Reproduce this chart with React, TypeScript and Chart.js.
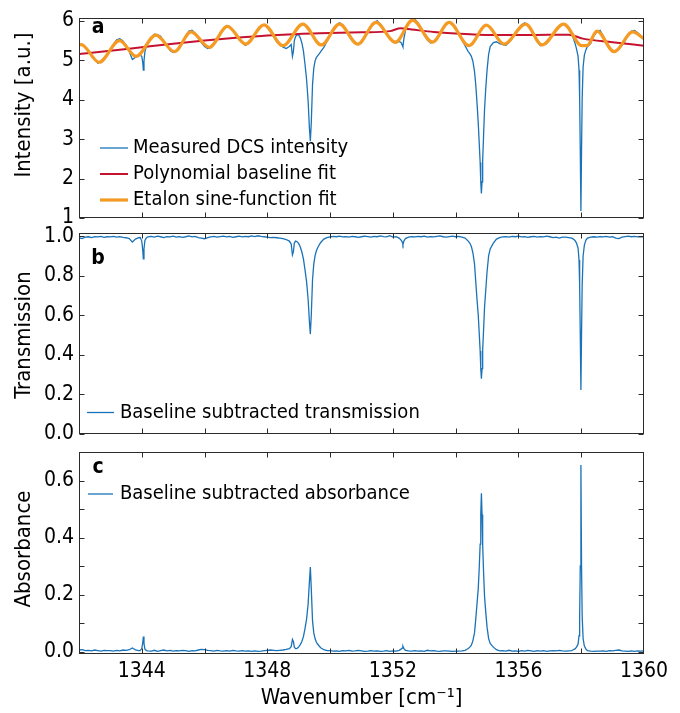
import React, { useEffect, useRef } from "react";
import { Chart, registerables } from "chart.js";

Chart.register(...registerables);

const FONT = "'DejaVu Sans Condensed', 'Liberation Sans Narrow', 'DejaVu Sans', sans-serif";

// ---------- shared wavenumber grid [cm^-1] ----------
const WAVENUMBER = [
  1342.0, 1342.1, 1342.2, 1342.3, 1342.4, 1342.5, 1342.6, 1342.7, 1342.8, 1342.9,
  1343.0, 1343.1, 1343.2, 1343.3, 1343.4, 1343.5, 1343.6, 1343.7, 1343.8, 1343.9,
  1343.95, 1344.0, 1344.03, 1344.05, 1344.07, 1344.1, 1344.15,
  1344.2, 1344.3, 1344.4, 1344.5, 1344.6, 1344.7, 1344.8, 1344.9, 1345.0, 1345.1,
  1345.2, 1345.3, 1345.4, 1345.5, 1345.6, 1345.7, 1345.8, 1345.9, 1346.0, 1346.1,
  1346.2, 1346.3, 1346.4, 1346.5, 1346.6, 1346.7, 1346.8, 1346.9, 1347.0, 1347.1,
  1347.2, 1347.3, 1347.4, 1347.5, 1347.6, 1347.7, 1347.8, 1347.9, 1348.0, 1348.1, 1348.2,
  1348.3, 1348.4, 1348.5, 1348.6, 1348.7, 1348.76, 1348.8, 1348.83, 1348.86, 1348.9,
  1348.95, 1349.0, 1349.05, 1349.1, 1349.15, 1349.2, 1349.25, 1349.3, 1349.34, 1349.37,
  1349.4, 1349.44, 1349.48, 1349.52, 1349.56, 1349.6, 1349.65, 1349.7, 1349.8, 1349.9,
  1350.0, 1350.1, 1350.2, 1350.3, 1350.4, 1350.5, 1350.6, 1350.7, 1350.8, 1350.9,
  1351.0, 1351.1, 1351.2, 1351.3, 1351.4, 1351.5, 1351.6, 1351.7, 1351.8, 1351.9,
  1352.0, 1352.1, 1352.2, 1352.26, 1352.3, 1352.32, 1352.35, 1352.4, 1352.5, 1352.6,
  1352.7, 1352.8, 1352.9, 1353.0, 1353.1, 1353.2, 1353.3, 1353.4, 1353.5, 1353.6,
  1353.7, 1353.8, 1353.9, 1354.0, 1354.1, 1354.2, 1354.3, 1354.4, 1354.45, 1354.5,
  1354.55, 1354.6, 1354.64, 1354.68, 1354.72, 1354.75, 1354.78, 1354.8, 1354.82, 1354.84,
  1354.86, 1354.89, 1354.92, 1354.96, 1355.0, 1355.05, 1355.1, 1355.2, 1355.3, 1355.4,
  1355.5, 1355.6, 1355.7, 1355.8, 1355.9, 1356.0, 1356.1, 1356.2, 1356.3, 1356.4,
  1356.5, 1356.6, 1356.7, 1356.8, 1356.9, 1357.0, 1357.1, 1357.2, 1357.3, 1357.4,
  1357.5, 1357.6, 1357.7, 1357.75, 1357.8, 1357.85, 1357.9, 1357.93, 1357.95, 1357.97,
  1357.99, 1358.01, 1358.03, 1358.06, 1358.1, 1358.15, 1358.2, 1358.3, 1358.4, 1358.5,
  1358.6, 1358.7, 1358.8, 1358.9, 1359.0, 1359.1, 1359.2, 1359.3, 1359.4, 1359.5,
  1359.6, 1359.7, 1359.8, 1359.9, 1360.0,
];

// ---------- panel a: measured DCS intensity [a.u.] ----------
const INTENSITY = [
  5.41, 5.38, 5.33, 5.26, 5.10, 5.03, 4.93, 4.97, 5.06, 5.12,
  5.25, 5.41, 5.52, 5.55, 5.49, 5.38, 5.22, 5.02, 5.08, 5.12,
  5.13, 5.10, 4.95, 4.75, 4.98, 5.22, 5.36,
  5.44, 5.58, 5.66, 5.65, 5.61, 5.47, 5.39, 5.25, 5.20, 5.25,
  5.30, 5.47, 5.62, 5.74, 5.76, 5.69, 5.57, 5.45, 5.35, 5.30,
  5.32, 5.44, 5.55, 5.70, 5.79, 5.88, 5.85, 5.75, 5.67, 5.52,
  5.46, 5.38, 5.43, 5.55, 5.64, 5.80, 5.86, 5.91, 5.85, 5.73, 5.60,
  5.47, 5.40, 5.33, 5.30, 5.35, 5.40, 5.10, 5.22, 5.50, 5.60,
  5.65, 5.64, 5.57, 5.44, 5.24, 4.90, 4.52, 3.96, 3.29, 2.95,
  3.41, 4.39, 4.80, 4.98, 5.07, 5.11, 5.16, 5.22, 5.33, 5.48,
  5.62, 5.80, 5.90, 5.95, 5.90, 5.76, 5.62, 5.50, 5.45, 5.40,
  5.45, 5.60, 5.74, 5.87, 5.96, 6.00, 5.92, 5.78, 5.66, 5.55,
  5.47, 5.44, 5.48, 5.45, 5.38, 5.34, 5.55, 5.75, 5.94, 6.03,
  6.04, 5.95, 5.80, 5.64, 5.51, 5.44, 5.47, 5.55, 5.69, 5.84,
  5.90, 5.98, 5.92, 5.80, 5.66, 5.52, 5.37, 5.22, 5.17, 5.10,
  4.97, 4.72, 4.38, 3.92, 3.40, 2.91, 2.41, 1.90, 1.62, 1.92,
  2.45, 3.11, 3.76, 4.30, 4.75, 5.15, 5.35, 5.45, 5.47, 5.42,
  5.40, 5.38, 5.45, 5.56, 5.70, 5.80, 5.90, 5.95, 5.88, 5.78,
  5.62, 5.47, 5.37, 5.40, 5.43, 5.55, 5.67, 5.78, 5.88, 5.93,
  5.90, 5.80, 5.65, 5.55, 5.44, 5.29, 5.10, 4.75, 4.04, 2.69,
  1.18, 2.69, 4.03, 4.83, 5.13, 5.27, 5.35, 5.42, 5.62, 5.72,
  5.76, 5.62, 5.45, 5.30, 5.21, 5.25, 5.28, 5.38, 5.50, 5.66,
  5.74, 5.76, 5.70, 5.62, 5.52,
];

// polynomial baseline fit
const BASELINE_X = [1342, 1343, 1344, 1345, 1346, 1347, 1348, 1349, 1350, 1351, 1351.9, 1352.25, 1352.6, 1353.3, 1354.3, 1355.3, 1356.3, 1357.6, 1358.05, 1359, 1360];
const BASELINE_Y = [5.16, 5.24, 5.33, 5.42, 5.50, 5.57, 5.63, 5.67, 5.69, 5.71, 5.74, 5.81, 5.78, 5.72, 5.67, 5.64, 5.64, 5.65, 5.55, 5.46, 5.37];

// etalon sine-function fit (extrema)
const ETALON_X = [1342.0, 1342.07, 1342.64, 1343.29, 1343.82, 1344.45, 1345.04, 1345.57, 1346.15, 1346.73, 1347.31, 1347.89, 1348.5, 1349.13, 1349.72, 1350.3, 1350.88, 1351.46, 1352.08, 1352.63, 1353.26, 1353.79, 1354.42, 1354.98, 1355.54, 1356.23, 1356.75, 1357.44, 1358.02, 1358.2, 1358.5, 1359.05, 1359.64, 1360.0];
const ETALON_Y = [5.39, 5.40, 4.95, 5.50, 5.10, 5.64, 5.22, 5.72, 5.33, 5.86, 5.41, 5.90, 5.37, 5.92, 5.39, 5.92, 5.41, 5.96, 5.46, 6.02, 5.46, 5.96, 5.37, 5.89, 5.41, 5.92, 5.39, 5.92, 5.37, 5.38, 5.74, 5.22, 5.72, 5.55];

// ---------- panel b: baseline subtracted transmission ----------
const TRANSMISSION = [
  0.992, 0.988, 0.995, 0.997, 0.993, 0.998, 0.996, 0.999, 0.994, 0.997,
  0.996, 0.999, 0.995, 0.998, 0.994, 0.992, 0.988, 0.970, 0.985, 0.992,
  0.993, 0.975, 0.930, 0.885, 0.935, 0.978, 0.992,
  0.997, 0.999, 0.995, 1.000, 0.997, 0.993, 0.998, 0.996, 1.000, 0.995,
  0.998, 0.994, 0.997, 1.001, 0.996, 0.999, 0.993, 0.990, 0.987, 0.992,
  0.996, 0.999, 0.995, 0.998, 1.000, 0.996, 0.999, 0.994, 0.997, 1.000,
  0.996, 0.999, 0.997, 1.001, 0.998, 1.002, 0.999, 0.997, 0.995, 0.993, 0.994,
  0.992, 0.990, 0.987, 0.983, 0.975, 0.960, 0.905, 0.920, 0.965, 0.975,
  0.972, 0.962, 0.945, 0.920, 0.885, 0.830, 0.770, 0.680, 0.570, 0.505,
  0.600, 0.780, 0.860, 0.900, 0.925, 0.940, 0.955, 0.968, 0.985, 0.993,
  0.996, 0.999, 0.997, 1.000, 0.996, 0.998, 0.995, 0.999, 0.997, 0.994,
  0.997, 1.000, 0.998, 0.995, 0.999, 0.997, 1.001, 0.998, 0.996, 1.002,
  0.995, 0.998, 0.990, 0.980, 0.970, 0.958, 0.975, 0.988, 0.995, 0.998,
  0.996, 0.999, 0.997, 1.000, 0.995, 0.998, 0.996, 0.999, 1.001, 0.997,
  0.995, 0.998, 1.000, 0.997, 0.999, 0.995, 0.990, 0.975, 0.965, 0.948,
  0.915, 0.860, 0.770, 0.680, 0.600, 0.510, 0.420, 0.330, 0.280, 0.330,
  0.420, 0.530, 0.640, 0.730, 0.820, 0.900, 0.935, 0.965, 0.985, 0.993,
  0.996, 0.998, 0.995, 0.999, 0.997, 1.000, 0.996, 0.998, 0.994, 0.997,
  0.999, 0.995, 0.998, 0.996, 1.000, 0.997, 0.993, 0.995, 0.990, 0.995,
  0.995, 0.993, 0.990, 0.985, 0.978, 0.965, 0.940, 0.880, 0.750, 0.500,
  0.222, 0.500, 0.750, 0.900, 0.955, 0.980, 0.990, 0.995, 0.997, 0.995,
  0.998, 0.996, 0.999, 0.995, 0.997, 0.990, 0.988, 0.995, 0.998, 1.000,
  0.997, 0.999, 0.996, 0.998, 0.997,
];

// ---------- panel c: baseline subtracted absorbance ----------
const ABSORBANCE = [
  0.006, 0.007, 0.004, 0.005, 0.003, 0.006, 0.004, 0.002, 0.005, 0.004,
  0.004, 0.002, 0.005, 0.003, 0.006, 0.005, 0.007, 0.013, 0.006, 0.004,
  0.004, 0.011, 0.031, 0.053, 0.029, 0.009, 0.004,
  0.003, 0.002, 0.005, 0.001, 0.004, 0.006, 0.003, 0.005, 0.002, 0.004,
  0.003, 0.005, 0.004, 0.001, 0.004, 0.003, 0.006, 0.008, 0.007, 0.005,
  0.004, 0.002, 0.005, 0.003, 0.002, 0.004, 0.002, 0.005, 0.003, 0.002,
  0.004, 0.002, 0.003, 0.001, 0.003, 0.001, 0.002, 0.004, 0.005, 0.006, 0.005,
  0.004, 0.005, 0.006, 0.008, 0.011, 0.018, 0.043, 0.036, 0.016, 0.011,
  0.012, 0.017, 0.025, 0.036, 0.053, 0.081, 0.114, 0.168, 0.244, 0.297,
  0.222, 0.108, 0.066, 0.046, 0.034, 0.027, 0.020, 0.014, 0.007, 0.004,
  0.004, 0.002, 0.003, 0.001, 0.004, 0.003, 0.005, 0.002, 0.003, 0.005,
  0.003, 0.001, 0.002, 0.004, 0.002, 0.003, 0.001, 0.002, 0.004, 0.001,
  0.003, 0.002, 0.005, 0.009, 0.013, 0.019, 0.011, 0.005, 0.003, 0.002,
  0.004, 0.002, 0.003, 0.001, 0.005, 0.003, 0.004, 0.002, 0.001, 0.003,
  0.003, 0.002, 0.001, 0.002, 0.002, 0.003, 0.005, 0.011, 0.016, 0.023,
  0.039, 0.066, 0.114, 0.168, 0.222, 0.292, 0.377, 0.481, 0.555, 0.481,
  0.377, 0.276, 0.194, 0.137, 0.086, 0.046, 0.029, 0.016, 0.007, 0.003,
  0.004, 0.002, 0.005, 0.002, 0.003, 0.001, 0.004, 0.002, 0.005, 0.003,
  0.001, 0.004, 0.002, 0.004, 0.001, 0.003, 0.004, 0.003, 0.005, 0.003,
  0.002, 0.003, 0.004, 0.007, 0.010, 0.016, 0.027, 0.056, 0.125, 0.301,
  0.654, 0.301, 0.125, 0.046, 0.020, 0.009, 0.004, 0.002, 0.001, 0.002,
  0.002, 0.003, 0.001, 0.004, 0.003, 0.005, 0.006, 0.003, 0.002, 0.001,
  0.003, 0.001, 0.003, 0.002, 0.003,
];

// ---------- axes ----------
const X_MIN = 1342;
const X_MAX = 1360;
const X_TICK_LABELS = [1344, 1348, 1352, 1356, 1360];
const X_TICK_MARKS = [1344, 1346, 1348, 1350, 1352, 1354, 1356, 1358];
const A_TICKS = [1, 2, 3, 4, 5, 6];
const B_TICKS = [0, 0.2, 0.4, 0.6, 0.8, 1.0];
const C_TICKS = [0, 0.2, 0.4, 0.6];
const C_TICK_MARKS = [0, 0.1, 0.2, 0.3, 0.4, 0.5, 0.6];

const BLUE = "#1a73b8";
const RED = "#c4122f";
const ORANGE = "#f59a23";

const pts = (xs: number[], ys: number[]) => xs.map((x, i) => ({ x, y: ys[i] }));

type LegendSpec = { x0: number; x1: number; tx: number; y0: number; dy: number };
type PanelSpec = {
  top: number;
  height: number;
  padTop: number;
  padBottom: number;
  yMin: number;
  yMax: number;
  yTicks: number[];
  yMarks: number[];
  yFmt: (v: number) => string;
  yTitle: string;
  yTitleY: number;
  letter: string;
  letterY: number;
  legend: LegendSpec;
  showX: boolean;
  datasets: any[];
};

const PANELS: PanelSpec[] = [
  {
    top: 0, height: 240, padTop: 15, padBottom: 22,
    yMin: 1, yMax: 6.083, yTicks: A_TICKS, yMarks: A_TICKS,
    yFmt: (v) => String(v), yTitle: "Intensity [a.u.]", yTitleY: 105,
    letter: "a", letterY: 28,
    legend: { x0: 100, x1: 128, tx: 133, y0: 148, dy: 26 },
    showX: false,
    datasets: [
      { label: "Measured DCS intensity", data: pts(WAVENUMBER, INTENSITY), borderColor: BLUE, borderWidth: 1.3, order: 2 },
      { label: "Polynomial baseline fit", data: pts(BASELINE_X, BASELINE_Y), borderColor: RED, borderWidth: 2, order: 1, cubicInterpolationMode: "monotone" },
      { label: "Etalon sine-function fit", data: pts(ETALON_X, ETALON_Y), borderColor: ORANGE, borderWidth: 3.2, order: 0, cubicInterpolationMode: "monotone" },
    ],
  },
  {
    top: 215, height: 240, padTop: 17, padBottom: 21,
    yMin: 0, yMax: 1.018, yTicks: B_TICKS, yMarks: B_TICKS,
    yFmt: (v) => v.toFixed(1), yTitle: "Transmission", yTitleY: 120,
    letter: "b", letterY: 44,
    legend: { x0: 87, x1: 114, tx: 120, y0: 197.5, dy: 26 },
    showX: false,
    datasets: [
      { label: "Baseline subtracted transmission", data: pts(WAVENUMBER, TRANSMISSION), borderColor: BLUE, borderWidth: 1.3 },
    ],
  },
  {
    top: 430, height: 283, padTop: 22, padBottom: 0,
    yMin: -0.008, yMax: 0.7, yTicks: C_TICKS, yMarks: C_TICK_MARKS,
    yFmt: (v) => v.toFixed(1), yTitle: "Absorbance", yTitleY: 119,
    letter: "c", letterY: 38,
    legend: { x0: 88, x1: 113, tx: 120, y0: 64, dy: 26 },
    showX: true,
    datasets: [
      { label: "Baseline subtracted absorbance", data: pts(WAVENUMBER, ABSORBANCE), borderColor: BLUE, borderWidth: 1.3 },
    ],
  },
];

function framePlugin(spec: PanelSpec) {
  return {
    id: "frameAndLegend",
    afterDatasetsDraw(chart: any) {
      const { ctx, chartArea } = chart;
      const { left, right, top, bottom } = chartArea;
      const xs = chart.scales.x;
      const ys = chart.scales.y;
      ctx.save();
      const L = Math.round(left) + 0.5;
      const R = Math.round(right) - 0.5;
      const T = Math.round(top) + 0.5;
      const B = Math.round(bottom) - 0.5;
      ctx.strokeStyle = "#2b2b2b";
      ctx.lineWidth = 1;
      ctx.strokeRect(L, T, R - L, B - T);
      const len = 5;
      ctx.beginPath();
      X_TICK_MARKS.forEach((v) => {
        const px = Math.round(xs.getPixelForValue(v)) + 0.5;
        ctx.moveTo(px, B);
        ctx.lineTo(px, B - len);
        ctx.moveTo(px, T);
        ctx.lineTo(px, T + len);
      });
      spec.yMarks.forEach((v) => {
        const py = Math.round(ys.getPixelForValue(v)) + 0.5;
        ctx.moveTo(L, py);
        ctx.lineTo(L + len, py);
        ctx.moveTo(R, py);
        ctx.lineTo(R - len, py);
      });
      ctx.stroke();

      // y-axis title
      ctx.save();
      ctx.translate(24, spec.yTitleY);
      ctx.rotate(-Math.PI / 2);
      ctx.fillStyle = "#000";
      ctx.font = `22px ${FONT}`;
      ctx.textAlign = "center";
      ctx.textBaseline = "middle";
      ctx.fillText(spec.yTitle, 0, 0);
      ctx.restore();

      // panel letter
      ctx.fillStyle = "#000";
      ctx.font = `bold 21px ${FONT}`;
      ctx.textAlign = "center";
      ctx.textBaseline = "middle";
      ctx.fillText(spec.letter, 98, spec.letterY);

      // legend
      const lg = spec.legend;
      ctx.font = `20px ${FONT}`;
      ctx.textAlign = "left";
      chart.data.datasets.forEach((ds: any, i: number) => {
        const y = lg.y0 + i * lg.dy;
        ctx.strokeStyle = ds.borderColor;
        ctx.lineWidth = ds.borderWidth;
        ctx.beginPath();
        ctx.moveTo(lg.x0, y);
        ctx.lineTo(lg.x1, y);
        ctx.stroke();
        ctx.fillStyle = "#000";
        ctx.fillText(ds.label, lg.tx, y);
      });
      ctx.restore();
    },
  };
}

function buildConfig(spec: PanelSpec): any {
  return {
    type: "line",
    data: {
      datasets: spec.datasets.map((d) => ({
        pointRadius: 0,
        pointHoverRadius: 0,
        tension: 0,
        fill: false,
        ...d,
      })),
    },
    options: {
      responsive: false,
      animation: false,
      devicePixelRatio: 1,
      events: [],
      layout: { padding: { left: 0, right: 36, top: spec.padTop, bottom: spec.padBottom } },
      plugins: { legend: { display: false }, tooltip: { enabled: false } },
      scales: {
        x: {
          type: "linear",
          min: X_MIN,
          max: X_MAX,
          display: spec.showX,
          afterBuildTicks: (s: any) => {
            s.ticks = X_TICK_LABELS.map((v) => ({ value: v }));
          },
          afterFit: (s: any) => {
            s.height = spec.showX ? 59 : 0;
          },
          grid: { display: false, drawTicks: false },
          border: { display: false },
          ticks: {
            autoSkip: false,
            maxRotation: 0,
            padding: 5,
            color: "#000",
            font: { family: FONT, size: 21 },
            callback: (v: any) => String(v),
          },
          title: {
            display: true,
            text: "Wavenumber [cm⁻¹]",
            color: "#000",
            font: { family: FONT, size: 22 },
            padding: { top: 0, bottom: 2 },
          },
        },
        y: {
          type: "linear",
          min: spec.yMin,
          max: spec.yMax,
          afterBuildTicks: (s: any) => {
            s.ticks = spec.yTicks.map((v) => ({ value: v }));
          },
          afterFit: (s: any) => {
            s.width = 79;
          },
          grid: { display: false, drawTicks: false },
          border: { display: false },
          ticks: {
            autoSkip: false,
            padding: 5,
            color: "#000",
            font: { family: FONT, size: 21 },
            callback: (v: any) => spec.yFmt(Number(v)),
          },
          title: { display: false },
        },
      },
    },
    plugins: [framePlugin(spec)],
  };
}

export default function App() {
  const refA = useRef<HTMLCanvasElement>(null);
  const refB = useRef<HTMLCanvasElement>(null);
  const refC = useRef<HTMLCanvasElement>(null);

  useEffect(() => {
    const refs = [refA, refB, refC];
    const charts = PANELS.map((p, i) => new Chart(refs[i].current as HTMLCanvasElement, buildConfig(p)));
    return () => charts.forEach((c) => c.destroy());
  }, []);

  const refs = [refA, refB, refC];
  return (
    <div style={{ position: "absolute", left: 0, top: 0, width: 680, height: 713, background: "#fff", overflow: "hidden" }}>
      {PANELS.map((p, i) => (
        <canvas
          key={i}
          ref={refs[i]}
          width={680}
          height={p.height}
          style={{ position: "absolute", left: 0, top: p.top, width: 680, height: p.height }}
        />
      ))}
    </div>
  );
}
